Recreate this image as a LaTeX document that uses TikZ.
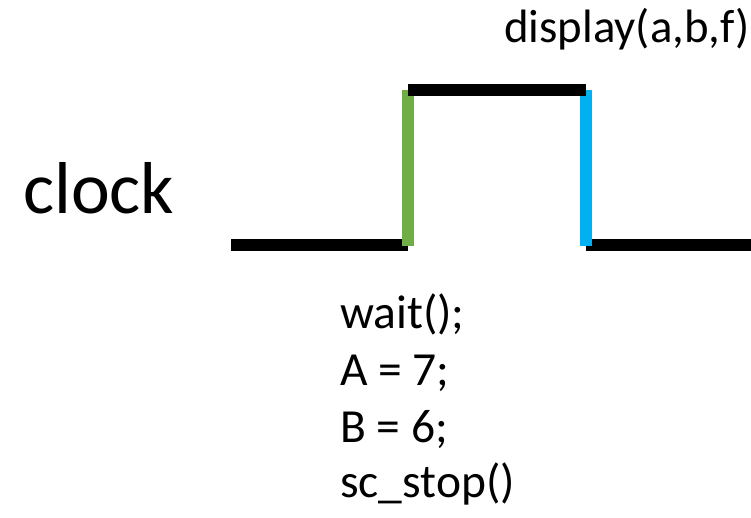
\documentclass[tikz,border=0pt]{standalone}
\usepackage{fontspec}
\setmainfont{Carlito}
\definecolor{edgegreen}{RGB}{112,173,71}
\definecolor{edgeblue}{RGB}{0,176,240}
\begin{document}
\begin{tikzpicture}[x=1pt,y=-1pt,
  wave/.style={line width=12pt},
  lbl/.style={inner sep=0pt,anchor=base west},
  codetxt/.style={lbl,font=\fontsize{47.5}{56}\selectfont},
]
\useasboundingbox (0,0) rectangle (751,518);
\fill[white] (0,0) rectangle (751,518);
% waveform coordinates
\coordinate (l0) at (231,245.5);
\coordinate (l1) at (408,245.5);
\coordinate (h0) at (408,90);
\coordinate (h1) at (586,90);
\coordinate (r0) at (586,245.5);
\coordinate (r1) at (751,245.5);
\draw[wave] (l0) -- (l1);
\draw[wave] (r0) -- (r1);
\draw[wave,edgegreen] (408,90) -- (408,246);
\draw[wave,edgeblue] (586,90) -- (586,246);
\draw[wave] (h0) -- (h1);
% labels
\node[lbl,font=\fontsize{73.5}{80}\selectfont] (clk) at (23,214) {clock};
\node[lbl,font=\fontsize{46.8}{56}\selectfont] (disp) at (504,43) {display(a,b,f)};
\node[codetxt] (c1) at (340,328) {wait();};
\node[codetxt] (c2) at (340,385) {A = 7;};
\node[codetxt] (c3) at (340,442) {B = 6;};
\node[codetxt] (c4) at (340,497) {sc\_stop()};
\end{tikzpicture}
\end{document}
